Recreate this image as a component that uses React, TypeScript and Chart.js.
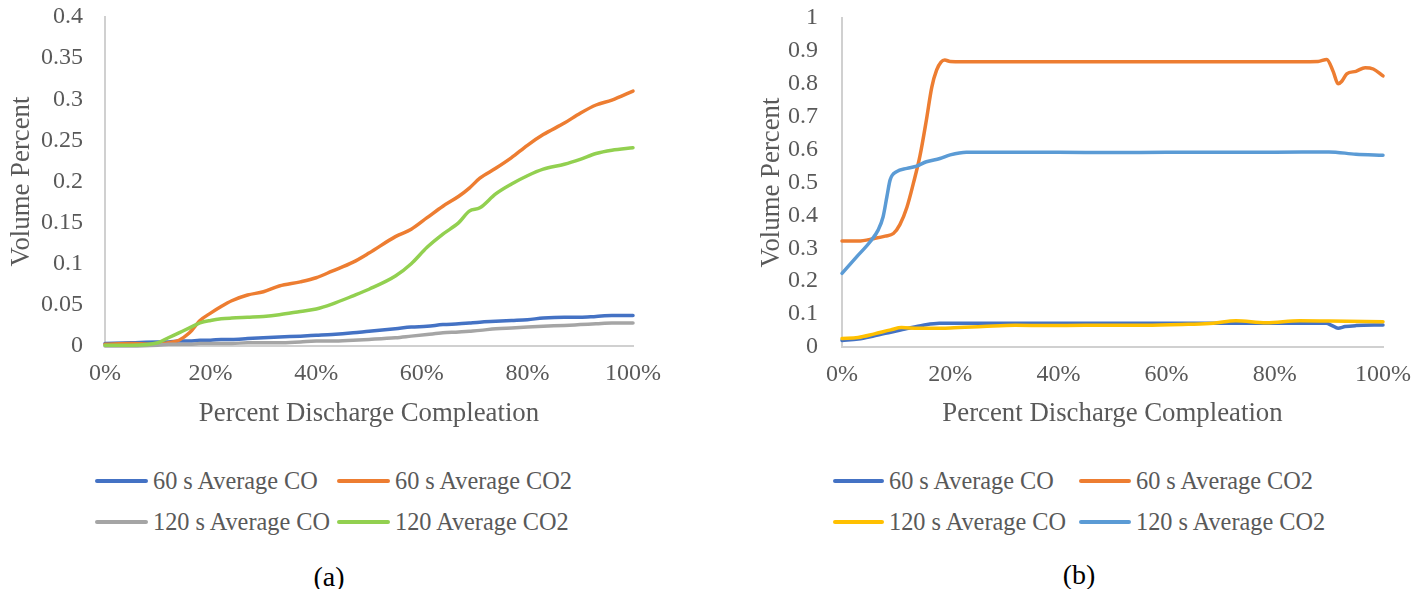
import React, { useEffect, useRef } from "react";
import { Chart, registerables } from "chart.js";

Chart.register(...registerables);

const FONT = '"Liberation Serif", "Times New Roman", serif';
const TEXT_GRAY = "#595959";
const AXIS_LINE = "#d0d0d0";
const TICK_SIZE = 24;
const TITLE_SIZE = 26.8;
const LEGEND_SIZE = 24.3;

// ---------- (a) discharge: CO / CO2 volume percent ----------
const pctA = [0, 5, 10, 12, 14, 16, 18, 20, 22, 24, 27, 30, 33, 37, 40, 43, 47, 50, 55, 58, 61, 64, 67, 69, 71, 74, 77, 80, 83, 87, 90, 93, 96, 100];
const co60A = [0.003, 0.004, 0.005, 0.005, 0.006, 0.006, 0.007, 0.007, 0.008, 0.008, 0.009, 0.010, 0.011, 0.012, 0.013, 0.014, 0.016, 0.018, 0.021, 0.023, 0.024, 0.026, 0.027, 0.028, 0.029, 0.030, 0.031, 0.032, 0.034, 0.035, 0.035, 0.036, 0.037, 0.037];
const co2_60A = [0.002, 0.003, 0.002, 0.004, 0.007, 0.016, 0.031, 0.040, 0.048, 0.055, 0.062, 0.066, 0.073, 0.078, 0.083, 0.091, 0.102, 0.113, 0.133, 0.142, 0.156, 0.170, 0.182, 0.192, 0.204, 0.216, 0.229, 0.244, 0.257, 0.271, 0.283, 0.293, 0.299, 0.310];
const co120A = [0.000, 0.000, 0.001, 0.002, 0.002, 0.002, 0.003, 0.003, 0.003, 0.003, 0.004, 0.004, 0.004, 0.005, 0.006, 0.006, 0.007, 0.008, 0.010, 0.012, 0.014, 0.016, 0.017, 0.018, 0.019, 0.021, 0.022, 0.023, 0.024, 0.025, 0.026, 0.027, 0.028, 0.028];
const co2_120A = [0.001, 0.001, 0.004, 0.010, 0.016, 0.022, 0.028, 0.031, 0.033, 0.034, 0.035, 0.036, 0.038, 0.042, 0.045, 0.051, 0.061, 0.069, 0.085, 0.100, 0.120, 0.136, 0.150, 0.164, 0.168, 0.185, 0.197, 0.207, 0.215, 0.221, 0.227, 0.234, 0.238, 0.241];

// ---------- (b) ----------
const co60B_x = [0, 3, 6, 9, 12, 15, 18, 20, 30, 40, 50, 60, 70, 80, 89.5, 90.5, 91.7, 93, 95, 100];
const co60B_y = [0.020, 0.024, 0.034, 0.045, 0.056, 0.066, 0.072, 0.072, 0.072, 0.072, 0.072, 0.072, 0.072, 0.072, 0.072, 0.066, 0.057, 0.062, 0.065, 0.067];

const co2_60B_x = [0, 3, 6, 8, 9.5, 10.7, 12, 13.2, 14.4, 15.6, 16.6, 17.5, 18.3, 19, 20, 25, 30, 40, 50, 60, 70, 80, 88, 89.6, 90.8, 91.7, 92.3, 93.3, 95, 96.7, 98.2, 100];
const co2_60B_y = [0.322, 0.322, 0.330, 0.337, 0.345, 0.372, 0.425, 0.498, 0.580, 0.690, 0.790, 0.842, 0.866, 0.872, 0.868, 0.867, 0.867, 0.867, 0.867, 0.867, 0.867, 0.867, 0.868, 0.874, 0.837, 0.800, 0.806, 0.830, 0.838, 0.849, 0.845, 0.824];

const co120B_x = [0, 3, 6, 9, 11, 14, 17, 20, 26, 32, 38, 45, 56, 64, 68.6, 72.8, 78.4, 84.6, 90, 100];
const co120B_y = [0.026, 0.029, 0.040, 0.052, 0.059, 0.057, 0.057, 0.058, 0.062, 0.066, 0.065, 0.066, 0.066, 0.069, 0.072, 0.080, 0.074, 0.080, 0.079, 0.077];

const co2_120B_x = [0, 2.7, 5.2, 6.7, 7.6, 8.3, 8.9, 10.1, 12, 13.8, 15.6, 18.1, 20, 23, 30, 40, 50, 60, 70, 80, 90, 95, 100];
const co2_120B_y = [0.224, 0.274, 0.320, 0.356, 0.396, 0.457, 0.508, 0.533, 0.543, 0.550, 0.563, 0.573, 0.584, 0.592, 0.592, 0.592, 0.591, 0.592, 0.592, 0.592, 0.593, 0.586, 0.583];

const xTicksPct = [0, 20, 40, 60, 80, 100];

const BLUE = "#4472C4";
const ORANGE = "#ED7D31";
const GRAY = "#A5A5A5";
const GREEN = "#92D050";
const YELLOW = "#FFC000";
const LIGHT_BLUE = "#5B9BD5";

type Series = { label: string; color: string; xs: number[]; ys: number[] };

const seriesA: Series[] = [
  { label: "60 s Average CO", color: BLUE, xs: pctA, ys: co60A },
  { label: "60 s Average CO2", color: ORANGE, xs: pctA, ys: co2_60A },
  { label: "120 s Average CO", color: GRAY, xs: pctA, ys: co120A },
  { label: "120 Average CO2", color: GREEN, xs: pctA, ys: co2_120A },
];

const seriesB: Series[] = [
  { label: "60 s Average CO", color: BLUE, xs: co60B_x, ys: co60B_y },
  { label: "60 s Average CO2", color: ORANGE, xs: co2_60B_x, ys: co2_60B_y },
  { label: "120 s Average CO", color: YELLOW, xs: co120B_x, ys: co120B_y },
  { label: "120 s Average CO2", color: LIGHT_BLUE, xs: co2_120B_x, ys: co2_120B_y },
];

type PanelProps = {
  series: Series[];
  left: number;
  width: number;
  height: number;
  yMax: number;
  yStep: number;
  yAxisWidth: number;
  xAxisHeight: number;
  padTop: number;
  padRight: number;
  yTickPad: number;
};

function fmtY(v: number) {
  return String(Number(v.toFixed(2)));
}

function Panel(p: PanelProps) {
  const ref = useRef<HTMLCanvasElement | null>(null);
  useEffect(() => {
    if (!ref.current) return;
    const n = p.series.length;
    const chart = new Chart(ref.current, {
      type: "line",
      data: {
        datasets: p.series.map((s, i) => ({
          label: s.label,
          data: s.xs.map((x, j) => ({ x, y: s.ys[j] })),
          borderColor: s.color,
          backgroundColor: s.color,
          borderWidth: 3.5,
          pointRadius: 0,
          fill: false,
          cubicInterpolationMode: "monotone" as const,
          borderCapStyle: "round" as const,
          borderJoinStyle: "round" as const,
          order: n - i,
          clip: 4,
        })),
      },
      options: {
        animation: false,
        responsive: false,
        maintainAspectRatio: false,
        layout: { padding: { top: p.padTop, right: p.padRight, left: 0, bottom: 0 } },
        plugins: { legend: { display: false }, tooltip: { enabled: false } },
        scales: {
          x: {
            type: "linear",
            min: 0,
            max: 100,
            afterBuildTicks: (scale: any) => {
              scale.ticks = xTicksPct.map((v) => ({ value: v }));
            },
            ticks: {
              callback: (v: any) => `${v}%`,
              font: { family: FONT, size: TICK_SIZE },
              color: TEXT_GRAY,
              padding: 13,
              maxRotation: 0,
              autoSkip: false,
            },
            grid: { display: false, drawTicks: false },
            border: { display: true, color: AXIS_LINE, width: 2 },
            title: {
              display: true,
              text: "Percent Discharge Compleation",
              font: { family: FONT, size: TITLE_SIZE },
              color: TEXT_GRAY,
              padding: { top: 0, bottom: 10 },
            },
            afterFit: (scale: any) => {
              scale.height = p.xAxisHeight;
            },
          },
          y: {
            type: "linear",
            min: 0,
            max: p.yMax,
            ticks: {
              stepSize: p.yStep,
              autoSkip: false,
              callback: (v: any) => fmtY(Number(v)),
              font: { family: FONT, size: TICK_SIZE },
              color: TEXT_GRAY,
              padding: p.yTickPad,
            },
            grid: { display: false, drawTicks: false },
            border: { display: true, color: AXIS_LINE, width: 2 },
            title: {
              display: true,
              text: "Volume Percent",
              font: { family: FONT, size: TITLE_SIZE },
              color: TEXT_GRAY,
              padding: { top: 6, bottom: 0 },
            },
            afterFit: (scale: any) => {
              scale.width = p.yAxisWidth;
              // let the layout padding alone decide the plot's top edge
              scale.paddingTop = 0;
              scale.paddingBottom = 0;
            },
          },
        },
      },
    } as any);
    return () => chart.destroy();
  }, []);
  return (
    <canvas
      ref={ref}
      width={p.width}
      height={p.height}
      style={{ position: "absolute", left: p.left, top: 0, width: p.width, height: p.height }}
    />
  );
}

type LegendPos = { lineLeft: number; lineRight: number; textLeft: number; y: number };

function LegendEntry({ s, pos }: { s: Series; pos: LegendPos }) {
  return (
    <>
      <div
        style={{
          position: "absolute",
          left: pos.lineLeft,
          top: pos.y - 2,
          width: pos.lineRight - pos.lineLeft,
          height: 4,
          background: s.color,
          borderRadius: 2,
        }}
      />
      <div
        style={{
          position: "absolute",
          left: pos.textLeft,
          top: pos.y - 15,
          height: 30,
          lineHeight: "30px",
          fontFamily: FONT,
          fontSize: LEGEND_SIZE,
          color: TEXT_GRAY,
          whiteSpace: "nowrap",
        }}
      >
        {s.label}
      </div>
    </>
  );
}

const legendA: LegendPos[] = [
  { lineLeft: 95, lineRight: 148, textLeft: 153, y: 481 },
  { lineLeft: 337, lineRight: 390, textLeft: 395, y: 481 },
  { lineLeft: 95, lineRight: 148, textLeft: 153, y: 522 },
  { lineLeft: 337, lineRight: 390, textLeft: 395, y: 522 },
];

const legendB: LegendPos[] = [
  { lineLeft: 833, lineRight: 884, textLeft: 889, y: 481 },
  { lineLeft: 1079, lineRight: 1131, textLeft: 1136, y: 481 },
  { lineLeft: 833, lineRight: 884, textLeft: 889, y: 522 },
  { lineLeft: 1079, lineRight: 1131, textLeft: 1136, y: 522 },
];

function Caption({ text, cx, cy }: { text: string; cx: number; cy: number }) {
  return (
    <div
      style={{
        position: "absolute",
        left: cx - 40,
        top: cy - 17,
        width: 80,
        height: 34,
        lineHeight: "34px",
        textAlign: "center",
        fontFamily: FONT,
        fontSize: 28,
        color: "#000",
      }}
    >
      {text}
    </div>
  );
}

export default function App() {
  return (
    <div
      style={{
        position: "absolute",
        left: 0,
        top: 0,
        width: 1428,
        height: 589,
        background: "#fff",
        overflow: "hidden",
      }}
    >
      <Panel
        series={seriesA}
        left={0}
        width={690}
        height={440}
        yMax={0.4}
        yStep={0.05}
        yAxisWidth={105}
        xAxisHeight={94}
        padTop={17}
        padRight={57}
        yTickPad={22}
      />
      <Panel
        series={seriesB}
        left={750}
        width={678}
        height={440}
        yMax={1}
        yStep={0.1}
        yAxisWidth={92}
        xAxisHeight={93}
        padTop={18}
        padRight={45}
        yTickPad={24}
      />
      {seriesA.map((s, i) => (
        <LegendEntry key={"a" + i} s={s} pos={legendA[i]} />
      ))}
      {seriesB.map((s, i) => (
        <LegendEntry key={"b" + i} s={s} pos={legendB[i]} />
      ))}
      <Caption text="(a)" cx={329} cy={577} />
      <Caption text="(b)" cx={1079} cy={575} />
    </div>
  );
}
